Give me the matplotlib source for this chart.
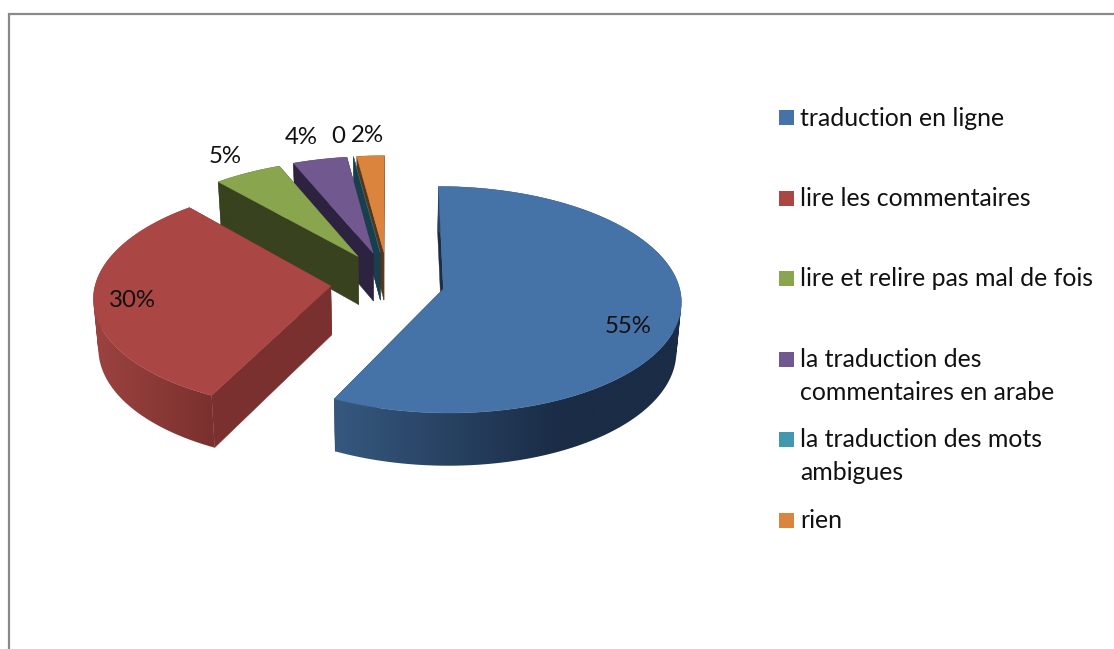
import numpy as np
import matplotlib
matplotlib.use('Agg')
import matplotlib.pyplot as plt
from matplotlib.colors import to_rgb
from matplotlib.patches import PathPatch
from matplotlib.path import Path

categories = ['traduction en ligne', 'lire les commentaires', 'lire et relire pas mal de fois',
              'la traduction des\ncommentaires en arabe', 'la traduction des mots\nambigues', 'rien']
values = [55, 30, 5, 4, 0, 2]
value_labels = ['55%', '30%', '5%', '4%', '0', '2%']

colors = ['#4572A7', '#AA4643', '#89A54E', '#71588F', '#4198AF', '#DB843D']
wall_light = ['#36587F', '#9C4340', '#38421F', '#2D2340', '#193F4C', '#5A3515']
wall_dark = ['#1A2C46', '#7A302E', '#38421F', '#2D2340', '#193F4C', '#5A3515']
wall_span = [0.65, 1.0, 1.0, 1.0, 1.0, 1.0]

# pie geometry, in pixels of the picture
X0, Y0 = 387.5, 282.0
R = 235.0
EX, EY = 57.0, 65.0
TILT = 0.472
PERSP = 0.0004
SHRINK = 0.983

FONT = 'Lato'
FS_LABEL = 17.3
FS_LEGEND = 17.9


def project(theta, mid):
    wx = EX * np.sin(mid) + R * np.sin(theta)
    wy = -EY * np.cos(mid) - R * np.cos(theta)
    s = 1 / (1 - PERSP * wy)
    return X0 + wx * s, Y0 + wy * s * TILT


def apex(mid):
    wx = EX * np.sin(mid)
    wy = -EY * np.cos(mid)
    s = 1 / (1 - PERSP * wy)
    return X0 + wx * s, Y0 + wy * s * TILT


def lower(x, y):
    # same point on the bottom face of the pie
    depth = 49 + (y - 288) * 0.03
    return X0 + (x - X0) * SHRINK, y + depth


fig = plt.figure(figsize=(11.14, 6.49), dpi=100)
ax = fig.add_axes([0, 0, 1, 1])
ax.set_xlim(0, 1114)
ax.set_ylim(649, 0)
ax.axis('off')

# frame of the chart, cut by the page on the right and at the bottom
ax.plot([9, 9, 1114], [649, 13.5, 13.5], color='#8A8A8A', lw=1.6, solid_joinstyle='miter')

total = sum(values)
starts = np.radians(np.cumsum([0] + values[:-1]) / total * 360)
ends = np.radians(np.cumsum(values) / total * 360)

# back slices first, the big ones on top of them
for i in [5, 4, 3, 2, 1, 0]:
    z = 10 + (5 - i)
    mid = (starts[i] + ends[i]) / 2
    ax_, ay_ = apex(mid)
    thetas = np.linspace(starts[i], ends[i], max(2, int(np.degrees(ends[i] - starts[i])) + 2))
    px, py = project(thetas, mid)
    lx, ly = lower(px, py)
    bax, bay = lower(ax_, ay_)

    # flat side walls, the end one first
    for k in [-1, 0]:
        ax.fill([ax_, px[k], lx[k], bax], [ay_, py[k], ly[k], bay],
                color=wall_dark[i], lw=0.3, zorder=z)

    # rounded outer wall, a horizontal gradient clipped to the swept shape
    xmin, xmax = min(px.min(), lx.min()), max(px.max(), lx.max())
    t = np.clip(np.linspace(0, 1, 256) / wall_span[i], 0, 1)[None, :, None]
    grad = np.array(to_rgb(wall_light[i]))[None, None, :] * (1 - t) + np.array(to_rgb(wall_dark[i]))[None, None, :] * t
    im = ax.imshow(grad, extent=[xmin, xmax + 0.01, ly.max(), py.min()], aspect='auto',
                   interpolation='bilinear', zorder=z)
    verts, codes = [], []
    for j in range(len(thetas) - 1):
        quad = [(px[j], py[j]), (px[j + 1], py[j + 1]), (lx[j + 1], ly[j + 1]), (lx[j], ly[j])]
        # keep every strip turning the same way so none cancels out
        area = sum(quad[n][0] * quad[(n + 1) % 4][1] - quad[(n + 1) % 4][0] * quad[n][1] for n in range(4))
        if area < 0:
            quad = quad[::-1]
        verts += quad + [quad[0]]
        codes += [Path.MOVETO, Path.LINETO, Path.LINETO, Path.LINETO, Path.CLOSEPOLY]
    wall = PathPatch(Path(verts, codes), transform=ax.transData)
    im.set_clip_path(wall)

    ax.fill(np.r_[ax_, px], np.r_[ay_, py], color=colors[i], lw=0.3, zorder=z)

ax.set_xlim(0, 1114)
ax.set_ylim(649, 0)

# data labels
label_x = [628, 132, 225, 301, 338, 367.5]
label_y = [333, 307, 163, 144, 143, 142]
for lab, x, y in zip(value_labels, label_x, label_y):
    ax.text(x, y, lab, fontsize=FS_LABEL, family=FONT, color='#111111', ha='center', va='baseline', zorder=30)

# legend
key_y = [110, 191, 271, 352, 432, 513]
text_y = [126, 206, 286, 367, 447, 528]
for c, name, ky, ty in zip(colors, categories, key_y, text_y):
    ax.fill([779, 794, 794, 779], [ky, ky, ky + 15, ky + 15], color=c, lw=0)
    for n, line in enumerate(name.split('\n')):
        ax.text(800, ty + n * 33, line, fontsize=FS_LEGEND, family=FONT, color='#111111', ha='left', va='baseline')

fig.savefig('out.png', dpi=100)
